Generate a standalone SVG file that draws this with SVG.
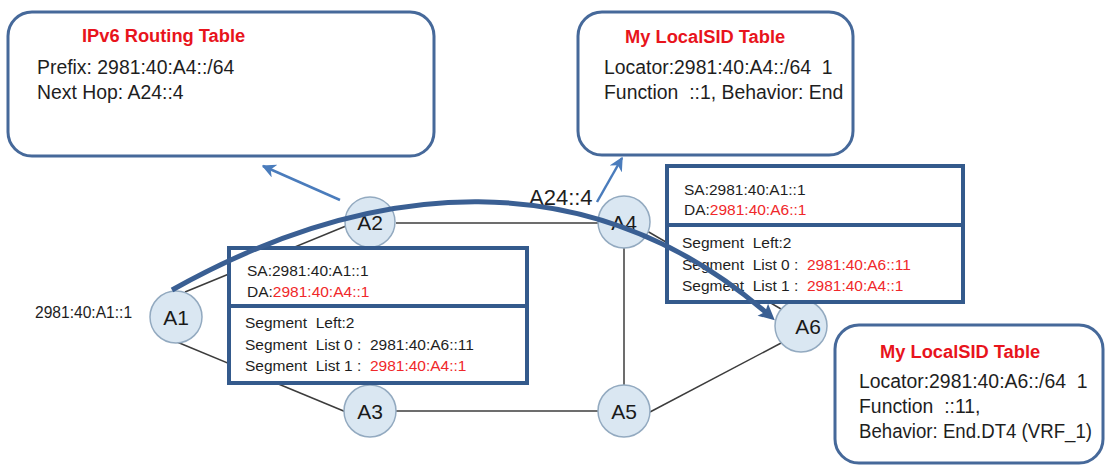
<svg xmlns="http://www.w3.org/2000/svg" width="1106" height="466" viewBox="0 0 1106 466">
  <style>
    .table { fill: #ffffff; stroke: #46699a; stroke-width: 3; }
    .pkt { fill: #ffffff; stroke: #345a8c; stroke-width: 4; }
    .div { stroke: #345a8c; stroke-width: 4; }
    .node circle { fill: #dae7f2; stroke: #93aac0; stroke-width: 1.5; }
    .node text { font-family: "Liberation Sans", Arial, sans-serif; font-size: 21px; fill: #1a1a1a; text-anchor: middle; }
    .link { stroke: #3c3c3c; stroke-width: 1.5; fill: none; }
    .title { font-family: "Liberation Sans", Arial, sans-serif; font-size: 18.3px; font-weight: bold; fill: #e8141c; }
    .tt { font-family: "Liberation Sans", Arial, sans-serif; font-size: 19.4px; fill: #1e1e1e; }
    .pt { font-family: "Liberation Sans", Arial, sans-serif; font-size: 15.5px; fill: #1e1e1e; white-space: pre; }
    .red { fill: #f0282a; }
    .lbl { font-family: "Liberation Sans", Arial, sans-serif; fill: #1e1e1e; }
    .ptr { stroke: #4a7cbc; stroke-width: 2.5; fill: none; }
    .path { stroke: #3a5f93; stroke-width: 5; fill: none; }
  </style>
  <defs>
    <marker id="ptrHead" viewBox="0 0 10 10" refX="9" refY="5" markerWidth="14" markerHeight="14" markerUnits="userSpaceOnUse" orient="auto">
      <path d="M0,0 L10,5 L0,10 L3,5 Z" fill="#4a7cbc"/>
    </marker>
    <marker id="pathHead" viewBox="0 0 10 10" refX="6" refY="5" markerWidth="18" markerHeight="16" markerUnits="userSpaceOnUse" orient="auto">
      <path d="M0,0 L10,5 L0,10 L2,5 Z" fill="#3a5f93"/>
    </marker>
  </defs>

  <!-- routing / SID tables -->
  <g id="ipv6-table">
    <rect class="table" x="8" y="12" width="426" height="144" rx="24"/>
    <text class="title" x="82" y="42">IPv6 Routing Table</text>
    <text class="tt" x="37" y="74">Prefix: 2981:40:A4::/64</text>
    <text class="tt" x="37" y="99">Next Hop: A24::4</text>
  </g>
  <g id="a4-localsid-table">
    <rect class="table" x="578" y="12" width="275" height="143" rx="24"/>
    <text class="title" x="625" y="43">My LocalSID Table</text>
    <text class="tt" x="604" y="74" xml:space="preserve">Locator:2981:40:A4::/64  1</text>
    <text class="tt" x="604" y="99" xml:space="preserve">Function  ::1, Behavior: End</text>
  </g>
  <g id="a6-localsid-table">
    <rect class="table" x="835" y="325" width="268" height="138" rx="24"/>
    <text class="title" x="880" y="358">My LocalSID Table</text>
    <text class="tt" x="859" y="388" xml:space="preserve">Locator:2981:40:A6::/64  1</text>
    <text class="tt" x="859" y="413" xml:space="preserve">Function  ::11,</text>
    <text class="tt" x="859" y="438" textLength="233" lengthAdjust="spacingAndGlyphs">Behavior: End.DT4 (VRF_1)</text>
  </g>

  <!-- physical links -->
  <g id="connectors">
    <line class="link" x1="185" y1="292" x2="346" y2="226"/>
    <line class="link" x1="177" y1="342" x2="346" y2="412"/>
    <line class="link" x1="370" y1="248" x2="370" y2="385"/>
    <line class="link" x1="396" y1="223" x2="598" y2="223"/>
    <line class="link" x1="396" y1="411" x2="598" y2="411"/>
    <line class="link" x1="624" y1="248" x2="624" y2="385"/>
    <line class="link" x1="647" y1="231" x2="781" y2="309"/>
    <line class="link" x1="650" y1="412" x2="783" y2="342"/>
  </g>

  <!-- routers -->
  <g id="A1" class="node"><circle cx="176" cy="317" r="26"/><text x="176" y="325">A1</text></g>
  <g id="A2" class="node"><circle cx="370" cy="222" r="25"/><text x="370" y="230">A2</text></g>
  <g id="A3" class="node"><circle cx="370" cy="411" r="26"/><text x="370" y="419">A3</text></g>
  <g id="A4" class="node"><circle cx="624" cy="222" r="26"/><text x="624" y="230">A4</text></g>
  <g id="A5" class="node"><circle cx="624" cy="411" r="26"/><text x="624" y="419">A5</text></g>
  <g id="A6" class="node"><circle cx="801" cy="326" r="26"/><text x="808" y="334">A6</text></g>

  <text id="a1-addr" class="lbl" x="35" y="318" font-size="15.6">2981:40:A1::1</text>
  <text id="a24-label" class="lbl" x="529" y="205" font-size="22">A24::4</text>

  <!-- SRv6 packet headers -->
  <g id="packet-a1">
    <rect class="pkt" x="229" y="248" width="298" height="135"/>
    <line class="div" x1="229" y1="306" x2="527" y2="306"/>
    <text class="pt" x="247" y="276">SA:2981:40:A1::1</text>
    <text class="pt" x="247" y="297">DA:<tspan class="red">2981:40:A4::1</tspan></text>
    <text class="pt" x="245" y="328">Segment  Left:2</text>
    <text class="pt" x="245" y="350">Segment  List 0 :  2981:40:A6::11</text>
    <text class="pt" x="245" y="371">Segment  List 1 :  <tspan class="red">2981:40:A4::1</tspan></text>
  </g>
  <g id="packet-a4">
    <rect class="pkt" x="667" y="166" width="296" height="136"/>
    <line class="div" x1="667" y1="225" x2="963" y2="225"/>
    <text class="pt" x="684" y="195">SA:2981:40:A1::1</text>
    <text class="pt" x="684" y="215">DA:<tspan class="red">2981:40:A6::1</tspan></text>
    <text class="pt" x="682" y="248">Segment  Left:2</text>
    <text class="pt" x="682" y="270">Segment  List 0 :  <tspan class="red">2981:40:A6::11</tspan></text>
    <text class="pt" x="682" y="291">Segment  List 1 :  <tspan class="red">2981:40:A4::1</tspan></text>
  </g>

  <!-- table pointers and forwarding path -->
  <g id="pointers">
    <line class="ptr" x1="340" y1="200" x2="263" y2="166" marker-end="url(#ptrHead)"/>
    <line class="ptr" x1="597" y1="202" x2="622" y2="158" marker-end="url(#ptrHead)"/>
    <path class="path" d="M172,290 C372,178 590,158 770,316" marker-end="url(#pathHead)"/>
  </g>
</svg>
